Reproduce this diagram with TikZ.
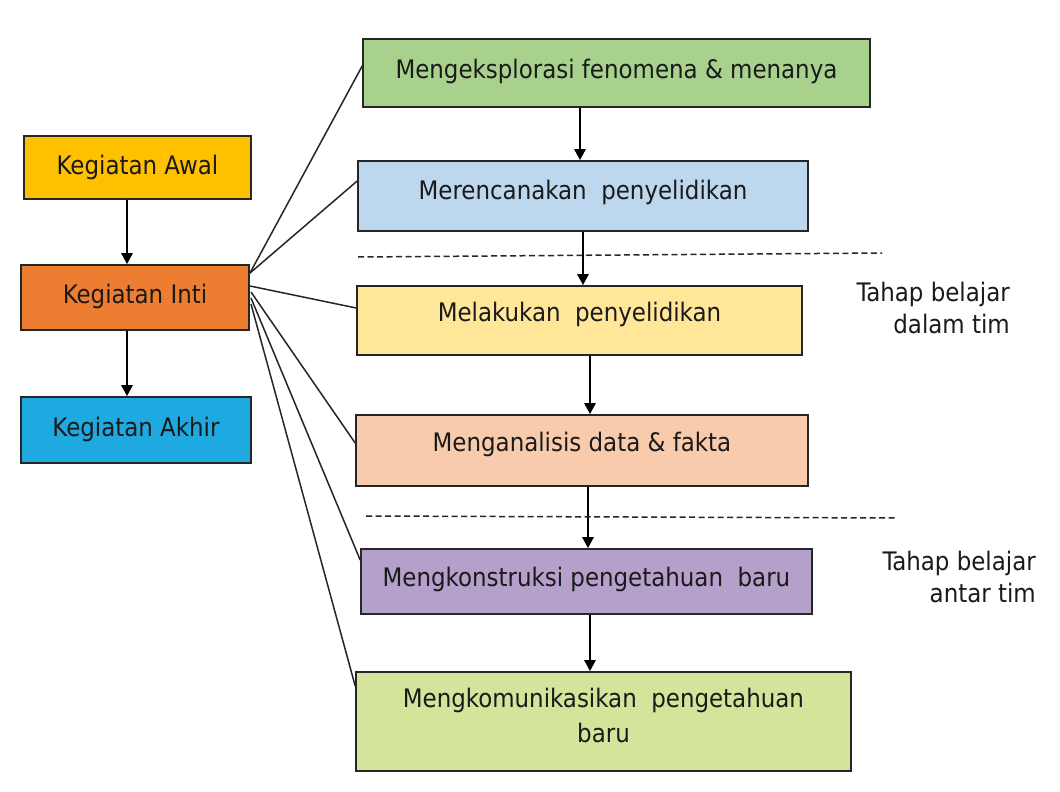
\documentclass[tikz,border=0pt]{standalone}
\usepackage{fontspec}
\setmainfont{DejaVu Sans Condensed}
\usetikzlibrary{arrows.meta}
\definecolor{cAwal}{HTML}{FFC000}
\definecolor{cInti}{HTML}{ED7D31}
\definecolor{cAkhir}{HTML}{1FA9E1}
\definecolor{cEks}{HTML}{A9D18E}
\definecolor{cRen}{HTML}{BDD7EE}
\definecolor{cLak}{HTML}{FFE699}
\definecolor{cAna}{HTML}{F8CBAD}
\definecolor{cKon}{HTML}{B4A0CB}
\definecolor{cKom}{HTML}{D5E49B}
\definecolor{cTxt}{HTML}{1A1A1A}
\tikzset{
  box/.style={draw=black!85, line width=1.6pt, inner sep=0pt, align=center,
    text=cTxt, font=\fontsize{25.5}{32}\selectfont},
  flow/.style={-{Triangle[length=11pt,width=11pt]}, line width=2.6pt, black},
  link/.style={line width=1.5pt, black!85},
  sep/.style={line width=1.5pt, black!85, dash pattern=on 6pt off 3.5pt},
  note/.style={align=right, text=cTxt, font=\fontsize{25.5}{32}\selectfont, inner sep=0pt}
}
\newcommand{\bx}[6]{% name, x1, y1, x2, y2, fill
  \node[box, fill=#6, minimum width={(#4-#2)*1pt}, minimum height={(#5-#3)*1pt}]
    (#1) at ({(#2+#4)/2},{(#3+#5)/2}) {};}
\begin{document}
\begin{tikzpicture}[x=1pt,y=-1pt]
\useasboundingbox[fill=white] (0,0) rectangle (1060,792);
% left column
\bx{awal}{24}{136}{251}{199}{cAwal}
\bx{inti}{21}{265}{249}{330}{cInti}
\bx{akhir}{21}{397}{251}{463}{cAkhir}
\node[box, draw=none, fill=none] at ([yshift=0pt]awal) {Kegiatan Awal};
\node[box, draw=none, fill=none] at ([yshift=1pt]inti) {Kegiatan Inti};
\node[box, draw=none, fill=none] at ([yshift=1pt]akhir) {Kegiatan Akhir};
% right column
\bx{eks}{363}{39}{870}{107}{cEks}
\bx{ren}{358}{161}{808}{231}{cRen}
\bx{lak}{357}{286}{802}{355}{cLak}
\bx{ana}{356}{415}{808}{486}{cAna}
\bx{kon}{361}{549}{812}{614}{cKon}
\bx{kom}{356}{672}{851}{771}{cKom}
\node[box, draw=none, fill=none] at ([yshift=2pt]eks) {Mengeksplorasi fenomena \& menanya};
\node[box, draw=none, fill=none] at ([yshift=4pt]ren) {Merencanakan\ \ penyelidikan};
\node[box, draw=none, fill=none] at ([yshift=6pt]lak) {Melakukan\ \ penyelidikan};
\node[box, draw=none, fill=none] at ([yshift=6pt]ana) {Menganalisis data \& fakta};
\node[box, draw=none, fill=none] at ([yshift=2pt]kon) {Mengkonstruksi pengetahuan\ \ baru};
\node[box, draw=none, fill=none, font=\fontsize{25.5}{35}\selectfont] at ([yshift=6pt]kom) {Mengkomunikasikan\ \ pengetahuan\\baru};
% flow arrows left
\draw[flow] (awal.south -| 127,0) -- (inti.north -| 127,0);
\draw[flow] (inti.south -| 127,0) -- (akhir.north -| 127,0);
% flow arrows right
\draw[flow] (eks.south -| 580,0) -- (ren.north -| 580,0);
\draw[flow] (ren.south -| 583,0) -- (lak.north -| 583,0);
\draw[flow] (lak.south -| 590,0) -- (ana.north -| 590,0);
\draw[flow] (ana.south -| 588,0) -- (kon.north -| 588,0);
\draw[flow] (kon.south -| 590,0) -- (kom.north -| 590,0);
% links from Kegiatan Inti
\coordinate (s1) at (250,273);
\coordinate (s2) at (250,286);
\coordinate (s3) at (251,292);
\coordinate (s4) at (251,298);
\coordinate (s5) at (251,304);
\draw[link] (s1) -- (eks.west |- 0,66);
\draw[link] (s1) -- (ren.west |- 0,181);
\draw[link] (s2) -- (lak.west |- 0,308);
\draw[link] (s3) -- (ana.west |- 0,443);
\draw[link] (s4) -- (kon.west |- 0,560);
\draw[link] (s5) -- (kom.west |- 0,686);
% dashed separators
\coordinate (d1a) at (358,257); \coordinate (d1b) at (882,253);
\coordinate (d2a) at (366,516); \coordinate (d2b) at (896,518);
\draw[sep] (d1a) -- (d1b);
\draw[sep] (d2a) -- (d2b);
% notes
\node[note, anchor=north east] (n1) at (1010,282) {Tahap belajar\\dalam tim};
\node[note, anchor=north east] (n2) at (1036,551) {Tahap belajar\\antar tim};
\end{tikzpicture}
\end{document}
